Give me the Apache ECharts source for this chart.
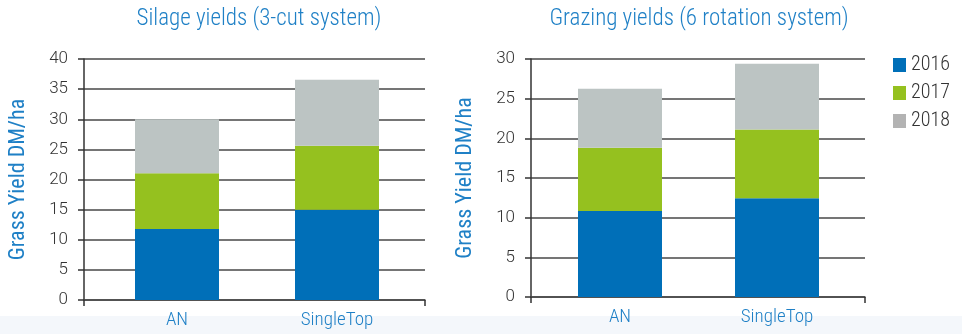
<!DOCTYPE html>
<html>
<head>
<meta charset="utf-8">
<script src="https://cdn.jsdelivr.net/npm/echarts@6/dist/echarts.min.js"></script>
<style>
html,body{margin:0;padding:0;background:#fff;}
#c{width:962px;height:334px;}
</style>
</head>
<body>
<div id="c"></div>
<script>
const categories = ['AN', 'SingleTop'];
const years = ['2016', '2017', '2018'];
const silage2016 = [11.8, 15.0];
const silage2017 = [9.25, 10.6];
const silage2018 = [8.95, 10.95];
const grazing2016 = [10.85, 12.45];
const grazing2017 = [7.95, 8.65];
const grazing2018 = [7.45, 8.3];
const silageAxis = { min: 0, max: 40, interval: 5 };
const grazingAxis = { min: 0, max: 30, interval: 5 };
const titles = ['Silage yields (3-cut system)', 'Grazing yields (6 rotation system)'];
const yName = 'Grass Yield DM/ha';

const NARROW = '"Roboto Condensed", "Liberation Sans", sans-serif';
const REG = 'Roboto, "Liberation Sans", sans-serif';
const BLUE_TXT = '#1f80c6';
const barColors = ['#006fb8', '#95c11f', '#bcc4c3'];
const legendColors = ['#006fb8', '#95c11f', '#b3b3b3'];

function frameY(gi, ax) {
  return {
    gridIndex: gi, type: 'value', min: ax.min, max: ax.max, interval: ax.interval,
    axisLine: { show: true, lineStyle: { color: '#333', width: 1.5 } },
    axisTick: { show: true, inside: false, length: 6, lineStyle: { color: '#333', width: 1.5 } },
    splitLine: { show: true, lineStyle: { color: '#474747', width: 1.5 } },
    axisLabel: { fontFamily: REG, fontWeight: 300, fontSize: 17, color: '#333', margin: 16 },
    name: yName, nameLocation: 'middle', nameGap: 55,
    nameTextStyle: { fontFamily: NARROW, fontWeight: 'normal', fontSize: 22, color: BLUE_TXT }
  };
}
function barY(gi, ax) {
  return { gridIndex: gi, type: 'value', min: ax.min, max: ax.max, interval: ax.interval, show: false };
}
function frameX(gi) {
  return {
    gridIndex: gi, type: 'category', data: categories,
    axisLine: { show: true, lineStyle: { color: '#474747', width: 1.5 } },
    axisTick: { show: true, length: 6, interval: function (i) { return i === 0; }, lineStyle: { color: '#333', width: 1.5 } },
    axisLabel: { show: false }, splitLine: { show: false }
  };
}
function barX(gi) {
  return {
    gridIndex: gi, type: 'category', data: categories,
    axisLine: { show: false }, axisTick: { show: false },
    axisLabel: { fontFamily: NARROW, fontWeight: 300, fontSize: 19, color: BLUE_TXT, margin: 11 }
  };
}
function bars(xi, yi, stack, arrs) {
  return arrs.map(function (d, k) {
    return {
      name: years[k], type: 'bar', stack: stack, xAxisIndex: xi, yAxisIndex: yi,
      barWidth: 84, data: d, itemStyle: { color: barColors[k] }, z: 5,
      emphasis: { disabled: true }
    };
  });
}

const chart = echarts.init(document.getElementById('c'), null, { renderer: 'canvas' });
chart.setOption({
  animation: false,
  backgroundColor: '#ffffff',
  graphic: [{
    type: 'rect', left: 0, top: 316, z: -10,
    shape: { width: 962, height: 18 },
    style: { fill: '#f4f7fb' }
  }],
  title: [
    { text: titles[0], left: 254, top: 3, textAlign: 'center',
      textStyle: { fontFamily: NARROW, fontSize: 23, fontWeight: 300, color: BLUE_TXT } },
    { text: titles[1], left: 694, top: 3, textAlign: 'center',
      textStyle: { fontFamily: NARROW, fontSize: 23, fontWeight: 300, color: BLUE_TXT } }
  ],
  legend: {
    orient: 'vertical', left: 888, top: 50, itemWidth: 13, itemHeight: 14, itemGap: 8,
    textStyle: { fontFamily: NARROW, fontWeight: 300, fontSize: 20, color: '#333' },
    data: years.map(function (y, k) { return { name: y, icon: 'rect', itemStyle: { color: legendColors[k] } }; }),
    selectedMode: false
  },
  grid: [
    { left: 84, top: 59, width: 341, height: 241 },
    { left: 97, top: 59, width: 320, height: 241 },
    { left: 531, top: 59, width: 334, height: 238 },
    { left: 541.5, top: 59, width: 314, height: 238 }
  ],
  xAxis: [frameX(0), barX(1), frameX(2), barX(3)],
  yAxis: [frameY(0, silageAxis), barY(1, silageAxis), frameY(2, grazingAxis), barY(3, grazingAxis)],
  series: [].concat(
    bars(1, 1, 'silage', [silage2016, silage2017, silage2018]),
    bars(3, 3, 'grazing', [grazing2016, grazing2017, grazing2018])
  )
});
</script>
</body>
</html>
